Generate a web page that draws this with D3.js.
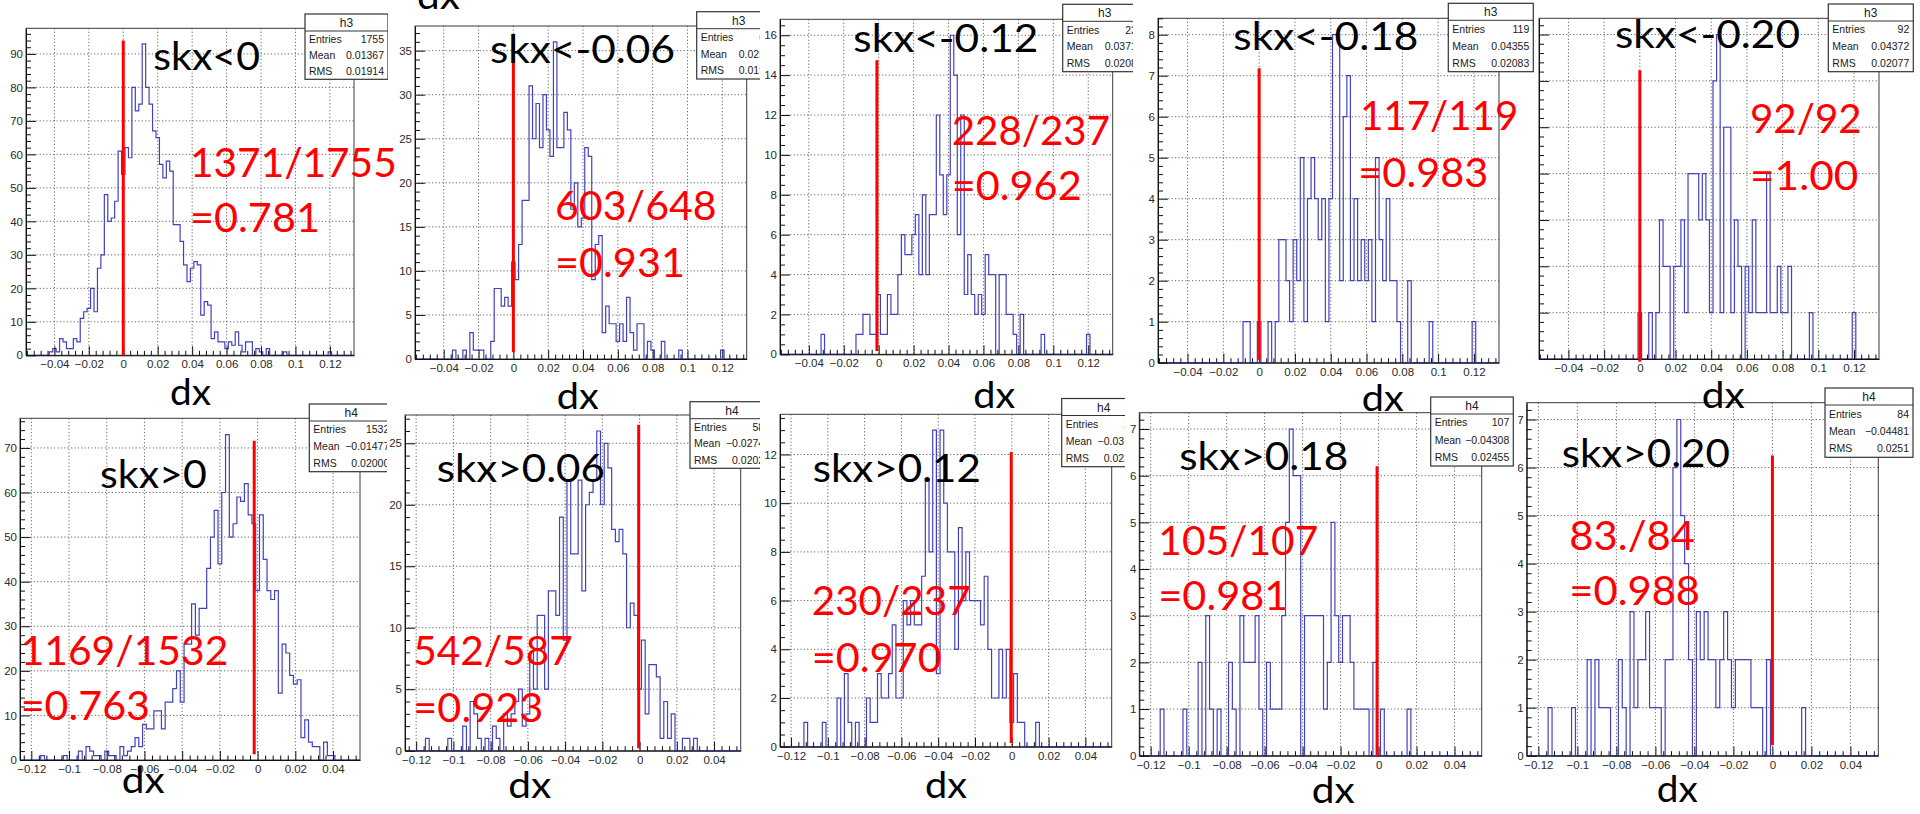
<!DOCTYPE html>
<html><head><meta charset="utf-8">
<script src="https://cdn.jsdelivr.net/npm/d3@7"></script>
<style>html,body{margin:0;padding:0;background:#fff;}svg{display:block;}</style>
</head><body>
<svg id="c" width="1920" height="814"></svg>
<script>
// ---------------- data ----------------
const histNames = ["h3","h3","h3","h3","h3","h4","h4","h4","h4","h4"];
const cutLabels = ["skx<0","skx<-0.06","skx<-0.12","skx<-0.18","skx<-0.20","skx>0","skx>0.06","skx>0.12","skx>0.18","skx>0.20"];
const ratioLabels = ["1371/1755","603/648","228/237","117/119","92/92","1169/1532","542/587","230/237","105/107","83./84"];
const effLabels = ["=0.781","=0.931","=0.962","=0.983","=1.00","=0.763","=0.923","=0.970","=0.981","=0.988"];
const statEntries = ["1755","648","237","119","92","1532","587","237","107","84"];
const statMeans = ["0.01367","0.02526","0.03717","0.04355","0.04372","\u22120.01477","\u22120.02743","\u22120.03741","\u22120.04308","\u22120.04481"];
const statRMS = ["0.01914","0.01904","0.02082","0.02083","0.02077","0.02000","0.02026","0.02265","0.02455","0.0251"];
const axisTitle = "dx";
const binWidth = 0.002;
const binStarts = [-0.042,-0.034,-0.032,-0.008,0.000,-0.114,-0.114,-0.112,-0.114,-0.114];
const counts1 = [1,2,1,5,4,2,2,5,4,11, 13,14,20,13,26,30,48,40,41,46, 61,
  54,62,59,80,73,75,93,80,75,67, 65,57,53,58,55,39,39,34,27,22, 26,28,27,12,16,15,5,7,4,4, 2,4,3,7,3,1,4,4,0,2, 1,0,2,0,0,0,0,1,
  0,0,0,0,0,0,0,0,0,0,0,0,1];
const counts2 = [1,0,0,1,0,3,1,1,1,0, 0,2,8,8,6,7,6,
  11,9,13,18,18,31,25,29,24,30, 26,23,36,24,24,28,26,17,20,15, 16,24,23,9,13,14,3,6,4,4, 2,4,2,7,3,1,4,4,0,2, 1,0,0,2,0,0,0,0,1,
  0,0,0,0,0,0,0,0,0,0,0,1];
const counts3 = [1,0,0,0,0,0,0,0,0,0, 1,1,2,2,1,1,
  3,1,1,3,2,2,4,6,5,5, 6,7,4,8,4,7,7,12,9,7, 9,16,14,6,12,3,5,3,2,3, 2,5,4,4,0,4,4,2,2,1, 0,2,0,0,0,0,0,1,
  0,0,0,0,0,0,0,0,0,0,0,0,1];
const counts4 = [1,1,0,0,
  1,0,0,1,0,1,3,3,2,1, 3,2,5,1,4,5,4,3,4,1, 4,8,8,2,6,7,2,4,2,3, 2,3,1,5,3,2,4,2,2,1, 0,0,2,0,0,0,0,0,1,
  0,0,0,0,0,0,0,0,0,0,0,1];
const counts5 = [1,0,0,1,0,1,3,2,2,0, 2,2,3,1,4,4,4,3,4,3, 1,6,7,1,5,5,1,3,2,0, 2,1,3,1,1,1,4,1,1,2, 1,1,2,0,0,0,0,0,1,
  0,0,0,0,0,0,0,0,0,0,0,1];
const counts6 = [1,0,0,0,0,0,1,0,0,0, 2,0,3,2,1,1,0,2,1,1, 0,3,1,2,3,5,3,8,7,7, 11,11,7,13,13,16,20,13,26,26,
  35,28,34,34,43,50,56,44,60,73, 50,53,59,58,62,55,53,38,55,45, 38,36,38,15,26,24,19,17,18,5, 9,4,3,3,0,4,1,1];
const counts7 = [1,0,0,0,0,0,1,0,0,0, 2,0,4,3,1,0,1,0,2,1, 0,3,2,3,4,5,2,3,8,5, 11,11,5,13,13,11,19,9,22,16,
  16,22,13,20,21,22,26,20,25,23, 18,17,18,16,10,12,11,5,9,3, 7,7,6,1,4,1,3,0,0,1, 1,0,1];
const counts8 = [1,0,0,0,0,1,0,0,0,2, 0,3,1,0,1,0,0,2,1,1, 3,2,2,3,5,2,2,6,5,6, 5,5,7,11,8,13,3,13,10,8,
  8,4,9,6,8,6,6,6,5,7, 4,2,2,4,2,4,1,3,1,1, 0,0,0,1];
const counts9 = [1,0,0,0,0,0,1,0,0,0, 2,0,3,1,0,1,0,0,2,1, 0,3,2,2,2,3,1,0,2,1, 1,1,3,5,7,6,6,0,3,3,
  3,3,3,1,2,5,3,2,3,3, 2,1,1,1,1,0,2,0,1,0, 0,0,0,0,0,1];
const counts10 = [1,0,0,0,0,0,1,0,0,0, 2,0,2,1,1,1,0,0,2,1, 0,3,1,2,2,3,1,1,1,0, 2,2,6,7,5,4,2,0,3,2,
  3,2,2,1,2,3,2,1,2,2, 2,2,1,1,1,0,2,0,0,0, 0,0,0,0,0,1];
const cutX = [0,0,-0.001,0,0,-0.0018,-0.0005,-0.0003,-0.0008,0];
const cutTop = [94,34,14.75,7.18,6.23,71.6,26.5,12.1,6.2,6.25];
const cutBottom = [0,0.8,0.17,0.07,-0.06,1.3,0.2,0.15,0,0.22];
const xDomainTop = [-0.0565, 0.134];
const xDomainBottom = [-0.126, 0.0543];
const xMajorStep = 0.02, xMinorStep = 0.004;
const yMajorStep = [10,5,2,1,1,10,5,2,1,1];
const yMinorStep = [2,1,0.5,0.2,0.2,2,1,0.5,0.2,0.2];

// ---------------- layout ----------------
const layout = [
 {L:26,R:354,T:28.3,B:355.3, img:[0,0,388,381], stats:[305,14,83,65.3], cut:[153.3,70,106.7], ratio:[190,176.7,206.7], eff:[190,231.7,130], dx:[170,405,41]},
 {L:415,R:746.7,T:26,B:359, img:[388,0,761,381], stats:[696.7,11.7,84,67.3], cut:[490,63,185], ratio:[555,220,161.7], eff:[555,276.7,130], dx:[556.7,409,42]},
 {L:780,R:1112.7,T:19.3,B:354.3, img:[760,0,1134,381], stats:[1062.7,4.3,84,67.4], cut:[853.3,52,185], ratio:[951.7,145,158.3], eff:[951.7,200,130], dx:[973.3,408,42]},
 {L:1158,R:1499,T:18.3,B:362.7, img:[1133,0,1537,381], stats:[1448.3,3.3,85,68.4], cut:[1233.3,50,185], ratio:[1360,130,158.3], eff:[1358.3,186.7,130], dx:[1361.7,411,42]},
 {L:1539,R:1879,T:18.3,B:359, img:[1500,0,1920,381], stats:[1828.3,4,85,67.7], cut:[1615,48,185], ratio:[1750,133.3,111.7], eff:[1750,190,108.3], dx:[1701.7,408,43]},
 {L:20,R:360,T:418.3,B:760, img:[0,388,388,814], stats:[309.3,404,84,67.7], cut:[100,488,106.7], ratio:[20.7,665,207.6], eff:[20.7,720,129.3], dx:[121.7,793,43]},
 {L:405,R:740.7,T:415,B:750.7, img:[387,388,761,814], stats:[690,401.7,84,66.6], cut:[436.7,482,168.3], ratio:[413.3,665,159.4], eff:[413.3,721.7,130], dx:[508.3,798,43]},
 {L:780,R:1111.7,T:414.3,B:746.7, img:[760,388,1126,814], stats:[1061.7,398.5,84,68.2], cut:[812.7,482,168.3], ratio:[811.7,615,159], eff:[811.7,671.7,130], dx:[925,798,42]},
 {L:1139.3,R:1481.7,T:412.7,B:755.7, img:[1125,386,1518,814], stats:[1430.7,397,82.6,69], cut:[1179.3,470,169], ratio:[1158.3,555,160], eff:[1158.3,610,130], dx:[1311.7,803,43]},
 {L:1526.7,R:1878.3,T:402.7,B:755.7, img:[1500,386,1920,814], stats:[1825,388,88,69.3], cut:[1561.7,466.7,168.3], ratio:[1569.3,550,125.7], eff:[1569.3,605,130.7], dx:[1656.7,802,41]}
];
const drawOrder = [0,1,2,4,3,5,6,7,9,8];
const counts = [counts1,counts2,counts3,counts4,counts5,counts6,counts7,counts8,counts9,counts10];

const HIST = "#4242bd", GRID = "#666", RED = "#ff0000";
const TICKFONT = "'Liberation Sans', Arial, sans-serif";
const BIGFONT = "Lato, 'Open Sans', sans-serif";

const svg = d3.select("#c");
const defs = svg.append("defs");
const panelLayer = svg.append("g");
const overlay = svg.append("g");
const fmt = v => d3.format("~g")(Math.round(v*1e6)/1e6);
function multiples(d0, d1, step){
  const a = Math.ceil(d0/step - 1e-7), b = Math.floor(d1/step + 1e-7);
  return d3.range(a, b+1).map(k => Math.round(k*step*1e6)/1e6);
}
const scales = [];

drawOrder.forEach(i => {
  const P = layout[i];
  const xd = i < 5 ? xDomainTop : xDomainBottom;
  const ymax = 1.05 * d3.max(counts[i]);
  const x = d3.scaleLinear().domain(xd).range([P.L, P.R]);
  const y = d3.scaleLinear().domain([0, ymax]).range([P.B, P.T]);
  scales[i] = {x, y};
  const g = panelLayer.append("g");
  g.append("rect").attr("x", P.img[0]).attr("y", P.img[1])
    .attr("width", P.img[2]-P.img[0]).attr("height", P.img[3]-P.img[1]).attr("fill", "#fff");

  const xMaj = multiples(xd[0], xd[1], xMajorStep);
  const xMin = multiples(xd[0], xd[1], xMinorStep).filter(v => !xMaj.some(m => Math.abs(m-v) < 1e-6));
  const yMaj = multiples(0, ymax, yMajorStep[i]);
  const yMin = multiples(0, ymax, yMinorStep[i]).filter(v => !yMaj.some(m => Math.abs(m-v) < 1e-6));

  // grid
  const grid = g.append("g").attr("stroke", GRID).attr("stroke-width", 1).attr("stroke-dasharray", "1.2,2.2");
  grid.selectAll(".gx").data(xMaj).join("line").attr("class","gx")
    .attr("x1", d => x(d)).attr("x2", d => x(d)).attr("y1", P.T).attr("y2", P.B);
  grid.selectAll(".gy").data(yMaj.filter(v => v > 0)).join("line").attr("class","gy")
    .attr("x1", P.L).attr("x2", P.R).attr("y1", d => y(d)).attr("y2", d => y(d));

  // frame
  g.append("rect").attr("x", P.L).attr("y", P.T).attr("width", P.R-P.L).attr("height", P.B-P.T)
    .attr("fill", "none").attr("stroke", "#3a3a3a").attr("stroke-width", 1);

  // histogram
  const clipId = "clip" + i;
  defs.append("clipPath").attr("id", clipId).append("rect")
    .attr("x", P.L).attr("y", P.T).attr("width", P.R-P.L).attr("height", P.B-P.T+1);
  const pts = [[xd[0], 0]];
  const c = counts[i];
  pts.push([binStarts[i]-binWidth/2, 0]);
  c.forEach((v, k) => {
    const cc = binStarts[i] + k*binWidth;
    pts.push([cc - binWidth/2, v]); pts.push([cc + binWidth/2, v]);
  });
  pts.push([binStarts[i] + (c.length-1)*binWidth + binWidth/2, 0]);
  pts.push([xd[1], 0]);
  g.append("path").attr("clip-path", `url(#${clipId})`)
    .attr("d", d3.line().x(d => x(d[0])).y(d => y(d[1]))(pts))
    .attr("fill", "none").attr("stroke", HIST).attr("stroke-width", 1.2);

  // axes
  const axB = g.append("g").attr("transform", `translate(0,${P.B})`)
    .call(d3.axisBottom(x).tickValues(xMaj).tickFormat(fmt).tickSizeInner(-9).tickSizeOuter(0).tickPadding(5));
  const axBm = g.append("g").attr("transform", `translate(0,${P.B})`)
    .call(d3.axisBottom(x).tickValues(xMin).tickFormat("").tickSizeInner(-4.5).tickSizeOuter(0));
  axBm.select(".domain").remove();
  const axL = g.append("g").attr("transform", `translate(${P.L},0)`)
    .call(d3.axisLeft(y).tickValues(yMaj).tickFormat(fmt).tickSizeInner(-10).tickSizeOuter(0).tickPadding(3));
  const axLm = g.append("g").attr("transform", `translate(${P.L},0)`)
    .call(d3.axisLeft(y).tickValues(yMin).tickFormat("").tickSizeInner(-5).tickSizeOuter(0));
  axLm.select(".domain").remove();
  [axB, axBm, axL, axLm].forEach(a => {
    a.selectAll("line").attr("stroke", "#111");
    a.select(".domain").attr("stroke", "#111");
    a.selectAll("text").attr("font-family", TICKFONT).attr("font-size", 11.5).attr("fill", "#2a2a2a");
  });

  // stats box
  const [sx, sy, sw, sh] = P.stats;
  const sg = g.append("g").attr("font-family", TICKFONT).attr("fill", "#1a1a1a");
  sg.append("rect").attr("x", sx).attr("y", sy).attr("width", sw).attr("height", sh)
    .attr("fill", "#fff").attr("stroke", "#333").attr("stroke-width", 1.2);
  sg.append("line").attr("x1", sx).attr("x2", sx+sw).attr("y1", sy+17).attr("y2", sy+17)
    .attr("stroke", "#333").attr("stroke-width", 1);
  sg.append("text").attr("x", sx+sw/2).attr("y", sy+13).attr("text-anchor", "middle")
    .attr("font-size", 12).text(histNames[i]);
  const rowsH = (sh-17)/3;
  const rows = [["Entries", statEntries[i]], ["Mean", statMeans[i]], ["RMS", statRMS[i]]];
  rows.forEach((r, k) => {
    const yy = sy + 17 + rowsH*(k+0.5) + 3.8;
    sg.append("text").attr("x", sx+4).attr("y", yy).attr("font-size", 10.5).text(r[0]);
    sg.append("text").attr("x", sx+sw-4).attr("y", yy).attr("font-size", 10.5)
      .attr("text-anchor", "end").text(r[1]);
  });
});

// ---------------- overlays (slide annotations) ----------------
function bigText(x, yb, w, size, color, str){
  overlay.append("text").attr("x", x).attr("y", yb).attr("font-family", BIGFONT)
    .attr("font-size", size).attr("fill", color)
    .attr("textLength", w).attr("lengthAdjust", "spacingAndGlyphs").text(str);
}
for (let i = 0; i < 10; i++) {
  const P = layout[i], s = scales[i];
  overlay.append("line")
    .attr("x1", s.x(cutX[i])).attr("x2", s.x(cutX[i]))
    .attr("y1", s.y(cutTop[i])).attr("y2", s.y(cutBottom[i]))
    .attr("stroke", RED).attr("stroke-width", 3);
}
for (let i = 0; i < 10; i++) {
  const P = layout[i];
  bigText(P.cut[0], P.cut[1], P.cut[2], 39, "#000", cutLabels[i]);
  bigText(P.ratio[0], P.ratio[1], P.ratio[2], 41, RED, ratioLabels[i]);
  bigText(P.eff[0], P.eff[1], P.eff[2], 41, RED, effLabels[i]);
  bigText(P.dx[0], P.dx[1], P.dx[2], 36, "#000", axisTitle);
}
// axis title of a panel above the visible area
bigText(417, 9, 43, 36, "#000", axisTitle);
</script>
</body></html>
